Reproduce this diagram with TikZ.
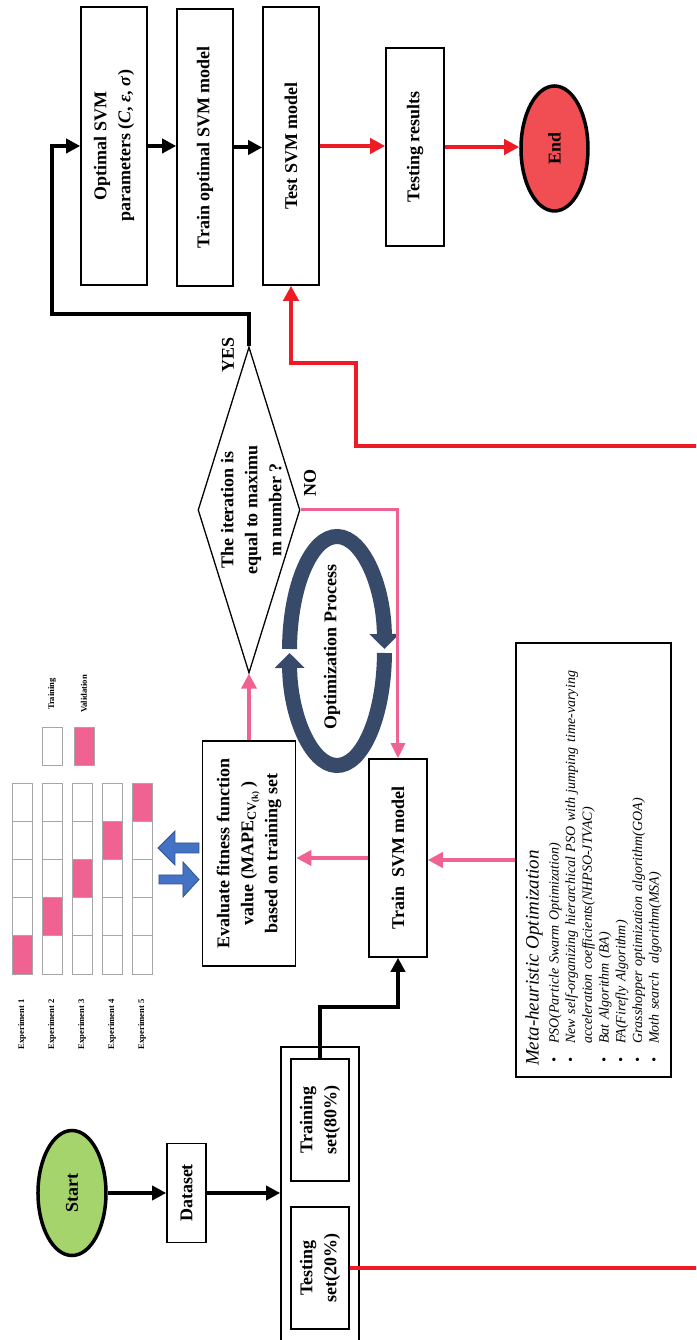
\documentclass[tikz,border=0pt]{standalone}
\usepackage{fontspec}
\setmainfont{Liberation Serif}
\usetikzlibrary{shapes.geometric,arrows.meta,calc}

\definecolor{pinkln}{HTML}{F06292}
\definecolor{redln}{HTML}{ED1C24}
\definecolor{startgreen}{HTML}{A6D46C}
\definecolor{endred}{HTML}{F04E53}
\definecolor{navy}{HTML}{374A6A}
\definecolor{arrowblue}{HTML}{4472C4}
\definecolor{arrowblueedge}{HTML}{2F528F}
\definecolor{cellpink}{HTML}{F06292}
\definecolor{cellgray}{HTML}{A6A6A6}

\newcommand{\flowfont}{\bfseries\fontsize{18}{24}\selectfont}
\newcommand{\gridfont}{\bfseries\fontsize{8.6}{10}\selectfont}
\newcommand{\metabullet}{\hspace*{3pt}\makebox[19pt][l]{•}}

\begin{document}
\begin{tikzpicture}[x=1pt,y=1pt,
  box/.style={draw, line width=1.6pt, fill=white, align=center, inner sep=2pt, font=\flowfont},
  terminal/.style={ellipse, draw, line width=3.5pt, inner sep=0pt, font=\flowfont},
  decision/.style={diamond, draw, line width=1.3pt, fill=white, inner sep=0pt,
    minimum width=326pt, minimum height=102pt, font=\flowfont},
  metabox/.style={draw, line width=1.6pt, fill=white, minimum width=434pt, minimum height=155pt,
    text width=412pt, align=left, inner sep=0pt, font=\itshape\fontsize{14}{16.7}\selectfont},
  blackarrow/.style={line width=4pt, -{Triangle[length=14pt,width=14pt]}},
  pinkarrow/.style={pinkln, line width=4pt, -{Triangle[length=15pt,width=15pt]}},
  noarrow/.style={pinkln, line width=3pt, -{Triangle[length=15pt,width=14pt]}},
  redarrow/.style={redln, line width=4.5pt, -{Triangle[length=15pt,width=15pt]}},
  optarc/.style={navy, line width=15pt, -{Triangle[length=15pt,width=29pt]}},
  cell/.style={draw=cellgray, line width=0.8pt, fill=white},
  gridlabel/.style={font=\gridfont, inner sep=0pt},
  blockarrow/.style={fill=arrowblue, draw=arrowblueedge, line width=0.8pt, line join=miter}]
\begin{scope}[rotate=90, transform shape]
\useasboundingbox (0,0) rectangle (1340,696);
\clip (0,0) rectangle (1340,696);

% data preparation
\node[terminal, fill=startgreen, minimum width=125pt, minimum height=68pt] (start) at (147,624) {Start};
\node[box, minimum width=99pt, minimum height=39pt] (dataset) at (147,509.5) {Dataset};
\node[draw, line width=1.6pt, fill=white, minimum width=298pt, minimum height=78pt] (split) at (144,376) {};
\node[box, minimum width=122pt, minimum height=58pt] (training) at (220,376) {Training\\set(80\%)};
\node[box, minimum width=122pt, minimum height=58pt] (testing) at (72,376) {Testing\\set(20\%)};

% optimisation loop
\node[box, minimum width=198pt, minimum height=58pt] (trainsvm) at (482,298) {Train\ \ SVM model};
\node[box, minimum width=225pt, minimum height=93pt] (evaluate) at (486.5,447)
  {Evaluate fitness function\\value (MAPE\textsubscript{CV\textsubscript{(k)}}\,)\\based on training set};
\node[decision] (decide) at (830,447)
  {\makebox[0pt]{\raisebox{-8pt}[0pt][0pt]{\begin{tabular}{@{}c@{}}The iteration is\\equal to maximu\\m number ?\end{tabular}}}};
\node[font=\flowfont, inner sep=0pt] (yes) at (985,468) {YES};
\node[font=\flowfont, inner sep=0pt] (no) at (857,386) {NO};

% final model
\node[box, minimum width=278pt, minimum height=66pt] (optparams) at (1194,582)
  {Optimal SVM\\parameters (\textit{C}, \textit{ε}, \textit{σ})};
\node[box, minimum width=277pt, minimum height=56pt] (trainopt) at (1192.5,491) {Train optimal SVM model};
\node[box, minimum width=278pt, minimum height=56pt] (testsvm) at (1194,405) {Test SVM model};
\node[box, minimum width=198pt, minimum height=58pt] (results) at (1193,281) {Testing results};
\node[terminal, fill=endred, minimum width=125pt, minimum height=67pt] (finish) at (1191.5,141.5) {End};

% algorithms
\node[metabox] (meta) at (480,102.5) {%
  {\fontsize{19}{22}\selectfont Meta-heuristic Optimization}\\[3.3pt]
  \metabullet PSO(Particle Swarm Optimization)\\
  \metabullet New self-organizing hierarchical PSO with jumping time-varying\\
  \hspace*{22pt}acceleration coefficients(NHPSO-JTVAC)\\
  \metabullet Bat Algorithm (BA)\\
  \metabullet FA(Firefly Algorithm)\\
  \metabullet Grasshopper optimization algorithm(GOA)\\
  \metabullet Moth search\ \ algorithm(MSA)};

% optimisation cycle
\coordinate (oc) at (689,359);
\draw[optarc] (oc) ++(89:114.5 and 47.5) arc[start angle=89, end angle=-89, x radius=114.5, y radius=47.5];
\draw[optarc] (oc) ++(-91:114.5 and 47.5) arc[start angle=-91, end angle=-269, x radius=114.5, y radius=47.5];
\node[font=\flowfont, inner sep=0pt] (optlabel) at (693,364) {Optimization Process};

% cross-validation folds
\foreach \k in {1,...,5}{
  \foreach \j in {1,...,5}{
    \pgfmathsetmacro\uu{366+38.2*(\j-1)}
    \pgfmathsetmacro\vv{664-30*(\k-1)}
    \ifnum\j=\k\relax
      \draw[cell, fill=cellpink] (\uu,\vv) rectangle ++(38.2,20);
    \else
      \draw[cell] (\uu,\vv) rectangle ++(38.2,20);
    \fi
  }
  \node[gridlabel, anchor=east] (exp\k) at (341,{674-30*(\k-1)}) {Experiment \k};
}
\draw[cell] (575,634) rectangle (613,654);
\draw[cell, fill=cellpink] (575,602) rectangle (613,622);
\node[gridlabel] (trlabel) at (646,644) {Training};
\node[gridlabel] (valabel) at (646,612) {Validation};

% exchange arrows
\draw[blockarrow] (487,497) -- (487,521) -- (475,521) -- (492,538) -- (509,521) -- (497,521) -- (497,497) -- cycle;
\draw[blockarrow] (456,537) -- (456,513) -- (443,513) -- (460.5,497) -- (478,513) -- (465,513) -- (465,537) -- cycle;

% connectors
\draw[blackarrow] (start.south) -- (dataset.north);
\draw[blackarrow] (dataset.south) -- (dataset.south |- split.north);
\draw[blackarrow] (training.east) -- ++(51,0) |- (trainsvm.west);
\draw[pinkarrow] (trainsvm.north) -- (trainsvm.north |- evaluate.south);
\draw[pinkarrow] (evaluate.east) -- (decide.west);
\draw[noarrow] (decide.south) |- (trainsvm.east);
\draw[pinkarrow] (meta.north) -- (meta.north |- trainsvm.south);
\coordinate (yesturn) at (1194,644);
\draw[blackarrow] (decide.east) -- ++(32,0) |- (yesturn) -- (optparams.north);
\draw[blackarrow] (optparams.south) -- (optparams.south |- trainopt.north);
\draw[blackarrow] (trainopt.south) -- (trainopt.south |- testsvm.north);
\draw[redarrow] (testsvm.south) -- (testsvm.south |- results.north);
\draw[redarrow] (results.south) -- (results.south |- finish.north);
\coordinate (r2) at (894,-10);
\coordinate (r3) at (977,340);
\draw[redarrow] (testing.south) |- (r2) |- (r3) |- (testsvm.west);
\end{scope}
\end{tikzpicture}
\end{document}
